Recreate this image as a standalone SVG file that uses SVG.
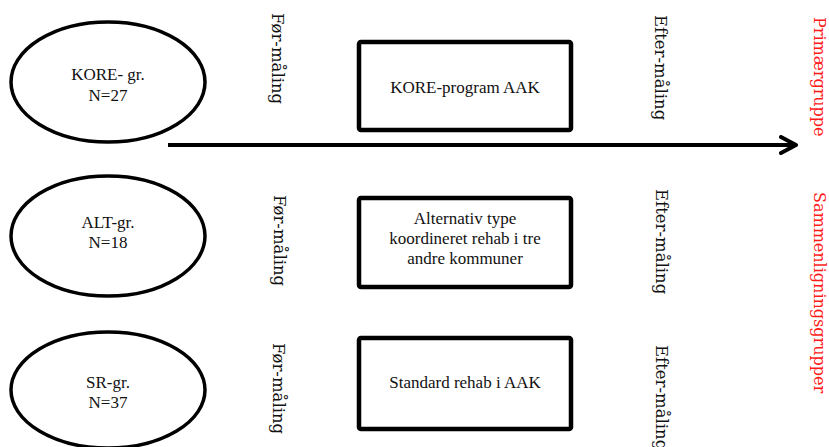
<svg xmlns="http://www.w3.org/2000/svg" width="829" height="447" viewBox="0 0 829 447">
  <style>
    .grp { fill: #fff; stroke: #000; stroke-width: 3.5; }
    .box { fill: #fff; stroke: #000; stroke-width: 4.5; }
    .lbl { font-family: "Liberation Serif", "Times New Roman", serif; font-size: 17px; fill: #111; text-anchor: middle; }
    .vt { font-family: "DejaVu Serif", serif; font-size: 16.5px; fill: #111; }
    .red { font-family: "DejaVu Serif", serif; font-size: 16px; fill: #ff1a1a; }
  </style>
  <defs>
    <marker id="open-arrow" viewBox="0 0 10 10" refX="8.5" refY="5" markerWidth="5" markerHeight="5" orient="auto" markerUnits="strokeWidth">
      <path d="M1,1 L8.5,5 L1,9" fill="none" stroke="#000" stroke-width="2" stroke-linecap="round" stroke-linejoin="round"/>
    </marker>
  </defs>
  <rect width="829" height="447" fill="#fff"/>

  <!-- timeline arrow -->
  <g id="connectors">
    <line x1="168" y1="145" x2="796" y2="145" stroke="#000" stroke-width="4" marker-end="url(#open-arrow)"/>
  </g>

  <!-- groups -->
  <g id="kore-group">
    <ellipse class="grp" cx="108" cy="82" rx="97" ry="60"/>
    <text class="lbl" x="108" y="80">KORE- gr.</text>
    <text class="lbl" x="108" y="101">N=27</text>
  </g>
  <g id="alt-group">
    <ellipse class="grp" cx="108" cy="236" rx="97" ry="60"/>
    <text class="lbl" x="108" y="228">ALT-gr.</text>
    <text class="lbl" x="108" y="248">N=18</text>
  </g>
  <g id="sr-group">
    <ellipse class="grp" cx="108" cy="390" rx="97" ry="58"/>
    <text class="lbl" x="108" y="388">SR-gr.</text>
    <text class="lbl" x="108" y="408">N=37</text>
  </g>

  <!-- interventions -->
  <g id="kore-program">
    <rect class="box" x="359" y="42" width="212" height="88" rx="2"/>
    <text class="lbl" x="465" y="93">KORE-program AAK</text>
  </g>
  <g id="alt-program">
    <rect class="box" x="359" y="198" width="212" height="89" rx="2"/>
    <text class="lbl" x="465" y="224">Alternativ type</text>
    <text class="lbl" x="465" y="244">koordineret rehab i tre</text>
    <text class="lbl" x="465" y="264">andre kommuner</text>
  </g>
  <g id="sr-program">
    <rect class="box" x="359" y="338" width="212" height="91" rx="2"/>
    <text class="lbl" x="465" y="388">Standard rehab i AAK</text>
  </g>

  <!-- measurement labels -->
  <g id="pre-1"><text class="vt" transform="translate(272,13) rotate(90)">Før-måling</text></g>
  <g id="post-1"><text class="vt" transform="translate(655,15) rotate(90)">Efter-måling</text></g>
  <g id="pre-2"><text class="vt" transform="translate(274,195) rotate(90)">Før-måling</text></g>
  <g id="post-2"><text class="vt" transform="translate(656,189) rotate(90)">Efter-måling</text></g>
  <g id="pre-3"><text class="vt" transform="translate(273,343) rotate(90)">Før-måling</text></g>
  <g id="post-3"><text class="vt" transform="translate(656,345) rotate(90)">Efter-måling</text></g>

  <!-- side headings -->
  <g id="primary"><text class="red" transform="translate(814,17) rotate(90)">Primærgruppe</text></g>
  <g id="comparison"><text class="red" transform="translate(814,192) rotate(90)">Sammenligningsgrupper</text></g>
</svg>
